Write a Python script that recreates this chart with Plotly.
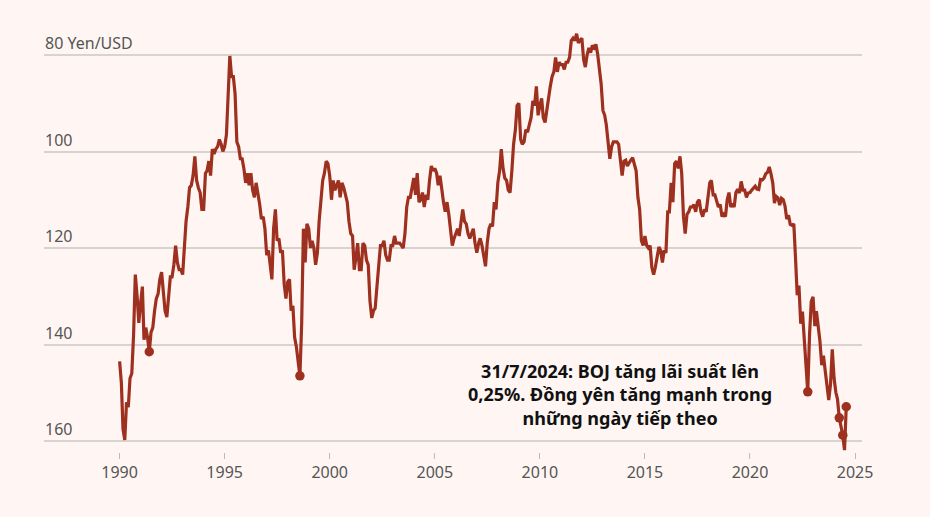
import pandas as pd
import plotly.graph_objects as go

# USD/JPY (yen per dollar), monthly readings from the chart
usdjpy_1990s = [
    143.5, 148.0, 157.5, 159.8, 152.0, 153.0, 147.0, 146.0, 138.0, 125.5, 130.0, 135.5,
    131.5, 128.0, 139.0, 136.5, 138.5, 141.5, 137.5, 136.5, 133.0, 130.5, 129.5, 126.5,
    125.0, 128.5, 133.0, 134.3, 129.5, 126.0, 126.0, 123.5, 119.5, 123.0, 124.5, 124.5,
    125.5, 118.5, 114.5, 111.5, 107.5, 107.0, 105.0, 101.0, 106.0, 107.5, 108.5, 112.0,
    112.0, 104.5, 104.0, 102.0, 105.0, 99.5, 100.5, 99.5, 99.0, 97.5, 98.5, 100.0,
    99.0, 96.5, 88.5, 80.2, 84.5, 84.5, 88.0, 98.0, 99.0, 101.5, 101.5, 103.5,
    106.5, 104.5, 107.0, 104.5, 108.0, 109.5, 106.5, 108.5, 111.0, 114.0, 113.5, 116.0,
    121.5, 120.5, 124.0, 126.5, 116.0, 112.0, 118.5, 118.0, 121.0, 120.5, 127.5, 130.5,
    127.0, 126.5, 133.0, 132.0, 138.5, 140.5, 143.5, 146.5, 135.5, 116.0, 123.0, 115.0,
    116.0, 120.0, 118.5, 120.0, 123.5, 121.0, 114.5, 110.0, 106.0, 104.5, 102.0, 102.5,
]
usdjpy_2000s = [
    105.0, 110.0, 106.0, 108.0, 107.0, 106.0, 109.5, 106.5, 107.5, 109.0, 110.5, 114.5,
    117.0, 117.5, 124.5, 122.0, 119.0, 124.5, 124.5, 119.0, 119.5, 122.5, 123.5, 131.0,
    134.5, 133.0, 132.5, 128.0, 124.0, 119.5, 119.5, 118.5, 121.5, 122.5, 122.5, 119.5,
    119.5, 117.5, 119.0, 119.0, 119.0, 119.5, 120.0, 117.0, 111.5, 109.5, 109.5, 107.5,
    105.5, 109.0, 104.5, 110.5, 110.0, 108.5, 111.5, 109.0, 110.0, 106.0, 103.0, 104.0,
    103.5, 104.5, 107.0, 105.0, 108.0, 110.5, 112.5, 110.5, 113.0, 116.0, 119.5, 118.0,
    117.0, 116.0, 117.5, 114.0, 112.0, 114.5, 115.0, 117.0, 118.0, 117.0, 116.0, 119.0,
    121.0, 119.0, 118.0, 119.5, 121.5, 123.8, 119.0, 116.0, 115.0, 115.5, 110.5, 112.0,
    106.5, 104.0, 99.5, 103.5, 105.5, 106.0, 108.0, 108.5, 104.0, 98.5, 95.5, 90.5,
    90.0, 97.5, 98.5, 98.0, 95.5, 96.0, 94.5, 93.0, 89.5, 90.5, 86.5, 92.5,
]
usdjpy_2010s = [
    90.5, 89.0, 93.0, 94.0, 91.5, 88.5, 86.5, 84.5, 83.5, 80.5, 83.5, 81.5,
    82.0, 82.0, 83.0, 81.5, 81.5, 80.5, 77.0, 76.5, 77.0, 75.6, 77.5, 77.0,
    76.5, 81.0, 82.5, 80.0, 78.5, 79.5, 78.0, 78.5, 77.8, 79.8, 82.5, 86.0,
    91.5, 92.5, 94.5, 97.5, 101.5, 99.0, 98.0, 98.0, 98.0, 98.5, 102.5, 105.0,
    102.0, 101.8, 103.0, 102.2, 101.8, 101.3, 102.8, 104.0, 109.5, 112.0, 118.5, 119.5,
    117.5, 119.5, 120.0, 119.5, 124.0, 125.5, 124.0, 121.5, 119.8, 120.5, 123.0, 120.5,
    121.0, 112.5, 112.5, 106.5, 110.5, 102.5, 102.0, 103.5, 101.0, 104.5, 113.5, 117.0,
    113.0, 112.5, 111.5, 111.5, 111.0, 112.5, 110.5, 110.0, 112.5, 113.5, 112.0, 112.5,
    109.0, 106.5, 106.0, 109.0, 109.0, 110.5, 111.5, 111.0, 113.5, 113.0, 113.5, 110.0,
    108.5, 111.5, 110.8, 111.5, 108.5, 107.8, 108.6, 106.2, 108.0, 108.0, 109.5, 108.6,
]
usdjpy_2020s = [
    108.5, 108.0, 107.5, 107.2, 107.8, 107.9, 105.8, 105.9, 105.5, 104.6, 104.3, 103.2,
    104.7, 106.6, 110.7, 109.3, 109.6, 111.1, 109.7, 110.0, 111.3, 114.0, 113.2, 115.1,
    115.3, 115.0, 121.7, 129.8, 127.8, 135.7, 133.2, 138.8, 144.7, 149.8, 138.0, 131.1,
    130.1, 136.2, 133.1, 136.3, 139.3, 144.3, 142.3, 145.5, 149.4, 151.5, 148.2, 141.0,
    146.9, 149.9, 151.3, 155.2, 157.0, 158.8, 161.9,
]
last_date = "2024-07-31"
last_value = 152.9

# highlighted points (round dots on the line)
dot_dates = ["1991-06-01", "1998-08-01", "2022-10-01", "2024-04-01", "2024-06-01", "2024-07-31"]
dot_values = [141.5, 146.5, 149.8, 155.2, 158.8, 152.9]

y_ticks = [80, 100, 120, 140, 160]
y_tick_labels = ["80 Yen/USD", "100", "120", "140", "160"]
x_ticks = ["1990-01-01", "1995-01-01", "2000-01-01", "2005-01-01",
           "2010-01-01", "2015-01-01", "2020-01-01", "2025-01-01"]
x_tick_labels = ["1990", "1995", "2000", "2005", "2010", "2015", "2020", "2025"]

note_text = ("31/7/2024: BOJ tăng lãi suất lên<br>"
             "0,25%. Đồng yên tăng mạnh trong<br>"
             "những ngày tiếp theo")

values = usdjpy_1990s + usdjpy_2000s + usdjpy_2010s + usdjpy_2020s
dates = list(pd.date_range("1990-01-01", periods=len(values), freq="MS"))
dates.append(pd.Timestamp(last_date))
values.append(last_value)

LINE = "#9e301f"
BG = "#fff6f3"
FONT = "Noto Sans"
Y_RANGE = [162.28, 74.82]

fig = go.Figure()
fig.add_trace(go.Scatter(
    x=dates, y=values, mode="lines",
    line=dict(color=LINE, width=3.2, shape="linear"),
    hoverinfo="skip", showlegend=False,
))
fig.add_trace(go.Scatter(
    x=dot_dates, y=dot_values, mode="markers", yaxis="y2",
    marker=dict(color=LINE, size=9.5),
    hoverinfo="skip", showlegend=False,
))

fig.add_annotation(
    x=0.704, y=0.137, xref="paper", yref="paper",
    text=note_text, showarrow=False, align="center",
    font=dict(family=FONT, size=18, color="#111111", weight="bold"),
    xanchor="center", yanchor="middle",
)

fig.update_layout(
    width=930, height=517,
    paper_bgcolor=BG, plot_bgcolor=BG,
    margin=dict(l=44, r=68, t=30, b=65),
    font=dict(family=FONT, size=15, color="#555555"),
    showlegend=False,
    xaxis=dict(
        type="date",
        range=["1986-05-28", "2025-05-01"],
        tickvals=x_ticks, ticktext=x_tick_labels,
        showgrid=False, zeroline=False, showline=False,
        ticks="outside", ticklen=6, tickcolor="#bbbbbb", tickwidth=1,
        tickfont=dict(family=FONT, size=16, color="#555555"),
    ),
    yaxis=dict(
        range=Y_RANGE,
        tickvals=y_ticks,
        showticklabels=False,
        showgrid=True, gridcolor="#d6d3d1", gridwidth=1.5,
        zeroline=False, showline=False, ticks="",
    ),
    yaxis2=dict(
        range=Y_RANGE, overlaying="y", anchor="free", position=0, side="right",
        tickvals=y_ticks, ticktext=y_tick_labels,
        showgrid=False, zeroline=False, showline=False, ticks="",
        ticklabelposition="outside top",
        tickfont=dict(family=FONT, size=16, color="#555555"),
    ),
)

fig.write_html(
    "out.html",
    config={"displayModeBar": False},
    post_script="document.body.style.margin='0px';document.body.style.background='#fff6f3';",
)
